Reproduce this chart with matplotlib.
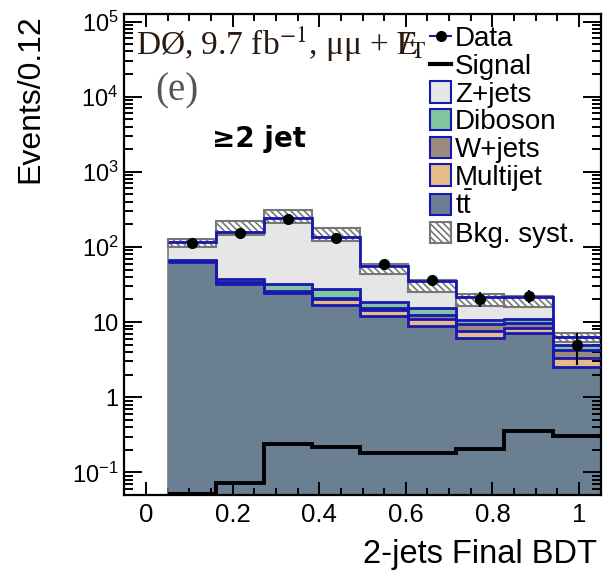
import numpy as np
import matplotlib
matplotlib.use('Agg')
import matplotlib.pyplot as plt
from matplotlib.patches import Patch
from matplotlib.lines import Line2D
from matplotlib.ticker import FixedLocator, FixedFormatter, MultipleLocator, LogLocator, NullFormatter

plt.rcParams['font.family'] = ['Liberation Sans', 'DejaVu Sans']
plt.rcParams['mathtext.fontset'] = 'custom'
plt.rcParams['mathtext.rm'] = 'Liberation Sans'
plt.rcParams['mathtext.it'] = 'Liberation Sans:italic'
plt.rcParams['mathtext.bf'] = 'Liberation Sans:bold'
plt.rcParams['hatch.linewidth'] = 1.2

# 9 bins of the 2-jets final BDT output
bin_edges = np.linspace(0.05, 1.05, 10)

# background components (events per bin)
ttbar = [63, 32, 24.5, 17, 12.2, 9.0, 6.2, 7.2, 2.5]
multijet = [1.5, 1.0, 0.8, 3.0, 2.1, 1.9, 1.4, 1.1, 0.8]
wjets = [1.5, 1.0, 0.7, 0.8, 1.2, 1.6, 1.9, 1.4, 1.0]
diboson = [2.0, 3.0, 6.0, 6.7, 3.2, 3.0, 1.3, 1.3, 0.6]
zjets = [47, 123, 209, 107.5, 37.1, 19.9, 10.6, 10.8, 1.4]

# systematic band (lower / upper edge)
syst_lo = [100, 146, 211, 120, 44, 24.8, 16.6, 16.1, 5.5]
syst_hi = [127, 222, 315, 178, 60, 36.1, 23.6, 22.4, 7.2]

data = [113, 153, 233, 131, 58.6, 36.5, 20.4, 22.4, 4.9]
data_err = [11, 12, 15, 11.5, 7.7, 6, 4.5, 4.7, 2.2]
signal = [0.051, 0.073, 0.236, 0.218, 0.18, 0.182, 0.207, 0.35, 0.306]

col_z = '#e6e6e6'
col_vv = '#80c4a0'
col_w = '#9a8b7e'
col_mj = '#e7bb88'
col_tt = '#6b7f93'
col_edge = '#1818b0'

fig = plt.figure(figsize=(6.15, 5.84), dpi=100)
ax = fig.add_axes([0.2021, 0.1524, 0.7747, 0.8236])

# cumulative stack, bottom to top
stack = [ttbar, multijet, wjets, diboson, zjets]
colors = [col_tt, col_mj, col_w, col_vv, col_z]
cum = np.cumsum(np.array(stack, dtype=float), axis=0)

floor = 1e-3
for i in range(len(stack) - 1, -1, -1):
    ax.stairs(cum[i], bin_edges, baseline=floor, fill=True, color=colors[i], lw=0, zorder=1)

# systematic band
lo = np.array(syst_lo)
hi = np.array(syst_hi)
ax.bar(bin_edges[:-1], hi - lo, bottom=lo, width=np.diff(bin_edges), align='edge',
       facecolor='white', edgecolor='#777777', hatch='\\\\\\\\\\', lw=1.5, zorder=2)

# blue outlines of each component
for i in range(len(stack)):
    ax.stairs(cum[i], bin_edges, baseline=None, color=col_edge, lw=2.0, zorder=3)

# grey outline of the whole stack
ax.stairs(cum[-1], bin_edges, baseline=floor, fill=False, color='#777777', lw=1.2, zorder=2.5)

# signal
ax.stairs(signal, bin_edges, baseline=None, color='black', lw=2.8, zorder=4)

# data
centers = 0.5 * (bin_edges[:-1] + bin_edges[1:])
ax.errorbar(centers, data, yerr=data_err, fmt='o', color='black', ms=7, lw=1.5,
            capsize=0, zorder=5)

ax.set_xlim(-0.05, 1.05)
ax.set_yscale('log')
ax.set_ylim(0.05, 10 ** 5.1)

ax.xaxis.set_minor_locator(MultipleLocator(0.05))
ax.set_xticks([0, 0.2, 0.4, 0.6, 0.8, 1.0])
ax.set_xticklabels(['0', '0.2', '0.4', '0.6', '0.8', '1'])

ytick_vals = [0.1, 1, 10, 100, 1e3, 1e4, 1e5]
ytick_labels = [r'$\mathrm{10^{-1}}$', '1', '10', r'$\mathrm{10^{2}}$',
                r'$\mathrm{10^{3}}$', r'$\mathrm{10^{4}}$', r'$\mathrm{10^{5}}$']
ax.yaxis.set_major_locator(FixedLocator(ytick_vals))
ax.yaxis.set_major_formatter(FixedFormatter(ytick_labels))
ax.yaxis.set_minor_locator(LogLocator(base=10, subs=np.arange(2, 10), numticks=20))
ax.yaxis.set_minor_formatter(NullFormatter())

for s in ax.spines.values():
    s.set_linewidth(1.6)
ax.tick_params(axis='both', which='both', direction='in', top=True, right=True, width=1.4)
ax.tick_params(axis='x', which='major', length=9.5, labelsize=18.5, pad=6)
ax.tick_params(axis='x', which='minor', length=5)
ax.tick_params(axis='y', which='major', length=13, labelsize=17, pad=4)
ax.tick_params(axis='y', which='minor', length=6.5)

ax.set_ylabel('Events/0.12', fontsize=23, loc='top')
ax.yaxis.set_label_coords(-0.165, 1.0)
ax.set_xlabel('2-jets Final BDT', fontsize=23.5, loc='right')
ax.xaxis.set_label_coords(0.993, -0.092)

ax.text(0.0246, 0.9148, 'DØ, 9.7 fb$^{-1}$, μμ + $\\mathrm{E\\!\\!\\!\\!/}_\\mathrm{T}$',
        transform=ax.transAxes, fontsize=24, family='Liberation Serif',
        math_fontfamily='stix', color='#2a1a10', va='baseline', ha='left')
ax.text(0.064, 0.821, '(e)', transform=ax.transAxes, fontsize=28,
        family='Liberation Serif', color='#555555', va='baseline', ha='left')
ax.text(0.184, 0.724, '≥2 jet', transform=ax.transAxes, fontsize=20,
        family='DejaVu Sans', fontweight='bold', color='black', va='baseline', ha='left')

handles = [
    Line2D([], [], color=col_edge, lw=1.5, marker='o', mfc='black', mec='black', ms=7),
    Line2D([], [], color='black', lw=3),
    Patch(facecolor=col_z, edgecolor=col_edge, lw=1.5),
    Patch(facecolor=col_vv, edgecolor=col_edge, lw=1.5),
    Patch(facecolor=col_w, edgecolor=col_edge, lw=1.5),
    Patch(facecolor=col_mj, edgecolor=col_edge, lw=1.5),
    Patch(facecolor=col_tt, edgecolor=col_edge, lw=1.5),
    Patch(facecolor='white', edgecolor='#777777', hatch='\\\\\\\\\\', lw=1.5),
]
labels = ['Data', 'Signal', 'Z+jets', 'Diboson', 'W+jets', 'Multijet',
          r'$\mathrm{t\bar{t}}$', 'Bkg. syst.']
ax.legend(handles, labels, loc='upper left', bbox_to_anchor=(0.642, 0.975),
          frameon=False, fontsize=20, handlelength=0.76, handleheight=0.8,
          handletextpad=0.14, labelspacing=0.05, borderpad=0, borderaxespad=0)

fig.savefig('out.png', dpi=100)
